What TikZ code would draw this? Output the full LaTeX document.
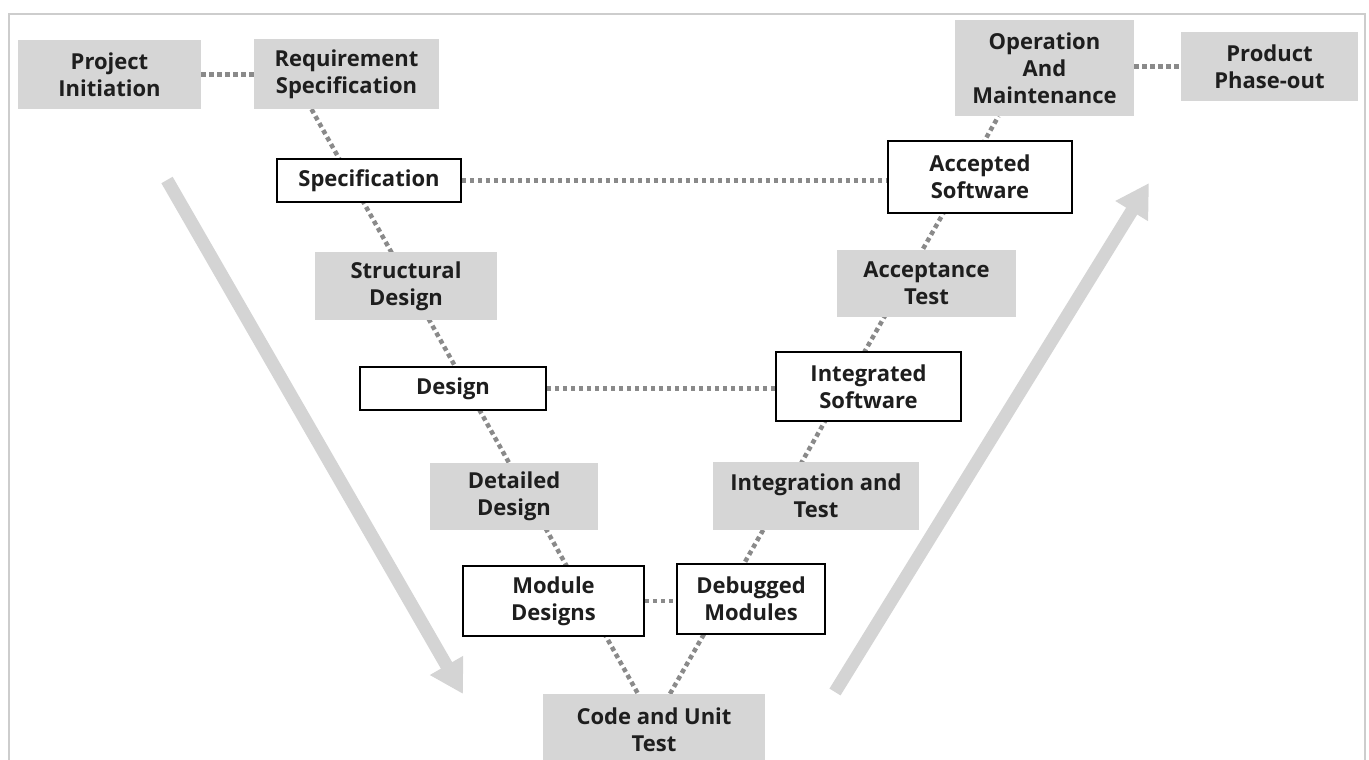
\documentclass[tikz,border=0pt]{standalone}
\usepackage{fontspec}
\setsansfont{Open Sans}
\usetikzlibrary{arrows.meta,backgrounds}

\definecolor{boxgray}{RGB}{214,214,214}
\definecolor{arrowgray}{RGB}{212,212,212}
\definecolor{dotgray}{RGB}{138,138,138}
\definecolor{framegray}{RGB}{205,205,205}
\definecolor{txt}{RGB}{30,30,30}

\tikzset{
  stage/.style={inner sep=0pt, align=center, text=txt,
    font=\sffamily\bfseries\fontsize{22}{27}\selectfont},
  graybox/.style={stage, fill=boxgray},
  whitebox/.style={stage, draw=black, line width=1.8pt, fill=white},
  dotline/.style={draw=dotgray, line width=4.5pt, dash pattern=on 4.5pt off 3.5pt},
  flow/.style={draw=arrowgray, line width=13pt,
    -{Triangle[length=33pt,width=36pt]}},
}

\begin{document}
\begin{tikzpicture}[x=1pt,y=-1pt]
\useasboundingbox (0,0) rectangle (1369,760);

% top row
\node[graybox, minimum width=183pt, minimum height=69pt] (pi)  at (109.5,74.5) {Project\\Initiation};
\node[graybox, minimum width=185pt, minimum height=70pt] (req) at (346.5,74)  {Requirement\\Specification};
\node[graybox, minimum width=179pt, minimum height=96pt] (opm) at (1044.5,68) {Operation\\And\\Maintenance};
\node[graybox, minimum width=177pt, minimum height=69pt] (phase) at (1269.5,66.5) {Product\\Phase-out};

% left leg
\node[whitebox, minimum width=184pt, minimum height=43pt] (spec)   at (369,180.5) {Specification};
\node[graybox,  minimum width=182pt, minimum height=68pt] (struct) at (406,286)   {Structural\\Design};
\node[whitebox, minimum width=186pt, minimum height=43pt] (design) at (453,388.5) {Design};
\node[graybox,  minimum width=168pt, minimum height=67pt] (detd)   at (514,496.5) {Detailed\\Design};
\node[whitebox, minimum width=181pt, minimum height=70pt] (mod)    at (553.5,601) {Module\\Designs};

% bottom
\node[graybox, minimum width=222pt, minimum height=72pt] (code) at (654,730) {Code and Unit\\Test};

% right leg
\node[whitebox, minimum width=148pt, minimum height=70pt] (dbg)   at (751,599)    {Debugged\\Modules};
\node[graybox,  minimum width=206pt, minimum height=68pt] (intt)  at (816,496)    {Integration and\\Test};
\node[whitebox, minimum width=185pt, minimum height=69pt] (intsw) at (868.5,386.5) {Integrated\\Software};
\node[graybox,  minimum width=179pt, minimum height=67pt] (acct)  at (926.5,283.5) {Acceptance\\Test};
\node[whitebox, minimum width=184pt, minimum height=72pt] (acc)   at (980,177)    {Accepted\\Software};

% flow arrows
\coordinate (downA) at (167,180);
\coordinate (downB) at (463,694);
\coordinate (upA)   at (835,692);
\coordinate (upB)   at (1149,183);

\begin{scope}[on background layer]
  \draw[framegray, line width=1.5pt] (9,14) rectangle (1365,780);
  \draw[flow] (downA) -- (downB);
  \draw[flow] (upA) -- (upB);

  % the V
  \draw[dotline] ([xshift=-35pt]req.south) -- ([xshift=-16pt]code.north);
  \draw[dotline] ([xshift=16pt]code.north) -- ([xshift=-46pt]opm.south);

  % horizontal links
  \draw[dotline] (pi.east) -- (pi.east -| req.west);
  \draw[dotline] (opm.east |- phase.west) -- (phase.west);
  \draw[dotline] (spec.east) -- (spec.east -| acc.west);
  \draw[dotline] (design.east) -- (design.east -| intsw.west);
  \draw[dotline] (mod.east) -- (mod.east -| dbg.west);
\end{scope}
\end{tikzpicture}
\end{document}
